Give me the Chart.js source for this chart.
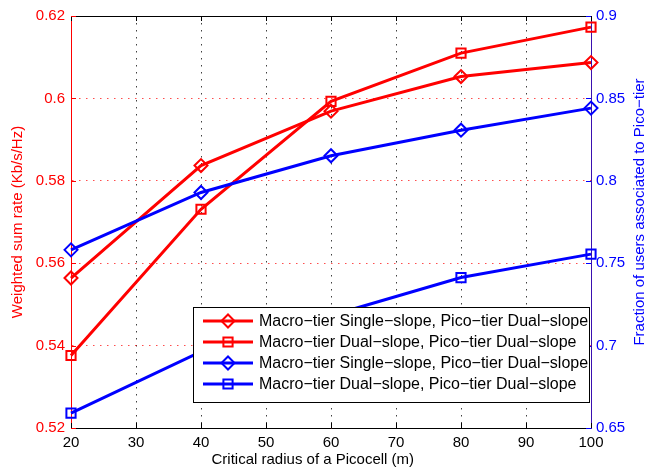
<!DOCTYPE html>
<html><head><meta charset="utf-8">
<script src="https://cdn.jsdelivr.net/npm/chart.js@4/dist/chart.umd.min.js"></script>
<style>html,body{margin:0;padding:0;background:#fff;}canvas{display:block;}</style>
</head><body>
<canvas id="c" width="647" height="471"></canvas>
<script>
// ---- data ----
const radii = [20, 40, 60, 80, 100];
const rateSingleDual = [0.5564, 0.5837, 0.5969, 0.6053, 0.6087];
const rateDualDual   = [0.5376, 0.5731, 0.5993, 0.6110, 0.6173];
const fracSingleDual = [0.7581, 0.7929, 0.8152, 0.8307, 0.8441];
const fracDualDual   = [0.6590, 0.6963, 0.7183, 0.7413, 0.7555];
const seriesLabels = [
  'Macro\u2212tier Single\u2212slope, Pico\u2212tier Dual\u2212slope',
  'Macro\u2212tier Dual\u2212slope, Pico\u2212tier Dual\u2212slope',
  'Macro\u2212tier Single\u2212slope, Pico\u2212tier Dual\u2212slope',
  'Macro\u2212tier Dual\u2212slope, Pico\u2212tier Dual\u2212slope'
];
const xTicks = [20, 30, 40, 50, 60, 70, 80, 90, 100];
const leftTicks = [0.52, 0.54, 0.56, 0.58, 0.6, 0.62];
const rightTicks = [0.65, 0.7, 0.75, 0.8, 0.85, 0.9];
const xTitle = 'Critical radius of a Picocell (m)';
const leftTitle = 'Weighted sum rate (Kb/s/Hz)';
const rightTitle = 'Fraction of users associated to Pico\u2212tier';

const FONT = "'Liberation Sans', Arial, Helvetica, sans-serif";
const RED = '#ff0000', BLUE = '#0000ff';

function pts(vals) { return radii.map((x, i) => ({x: x, y: vals[i]})); }

function drawMarker(ctx, style, x, y, r) {
  ctx.beginPath();
  if (style === 'rectRot') {
    ctx.moveTo(x - r, y); ctx.lineTo(x, y - r); ctx.lineTo(x + r, y); ctx.lineTo(x, y + r); ctx.closePath();
  } else {
    const s = r * Math.SQRT1_2; ctx.rect(x - s, y - s, 2 * s, 2 * s);
  }
  ctx.stroke();
}

const decor = {
  id: 'decor',
  beforeDatasetsDraw(chart) {
    const {ctx, chartArea: a, scales} = chart;
    ctx.save();
    ctx.lineWidth = 1;
    // top border
    ctx.strokeStyle = '#000';
    ctx.beginPath(); ctx.moveTo(a.left, a.top + 0.5); ctx.lineTo(a.right, a.top + 0.5); ctx.stroke();
    const tl = 5;
    // x ticks inward (bottom & top)
    ctx.beginPath();
    xTicks.forEach(v => {
      const px = Math.round(scales.x.getPixelForValue(v)) + 0.5;
      ctx.moveTo(px, a.bottom); ctx.lineTo(px, a.bottom - tl);
      ctx.moveTo(px, a.top); ctx.lineTo(px, a.top + tl);
    });
    ctx.stroke();
    ctx.strokeStyle = RED; ctx.beginPath();
    leftTicks.forEach(v => {
      const py = Math.round(scales.y.getPixelForValue(v)) + 0.5;
      ctx.moveTo(a.left, py); ctx.lineTo(a.left + tl, py);
    });
    ctx.stroke();
    ctx.strokeStyle = BLUE; ctx.beginPath();
    rightTicks.forEach(v => {
      const py = Math.round(scales.y1.getPixelForValue(v)) + 0.5;
      ctx.moveTo(a.right, py); ctx.lineTo(a.right - tl, py);
    });
    ctx.stroke();
    // titles
    ctx.font = '15px ' + FONT;
    ctx.textAlign = 'center'; ctx.textBaseline = 'middle';
    ctx.fillStyle = '#000';
    ctx.fillText(xTitle, a.left + (a.right - a.left) * 0.465, 460);
    ctx.save();
    ctx.translate(640, (a.top + a.bottom) / 2 - 10);
    ctx.rotate(-Math.PI / 2);
    ctx.fillStyle = BLUE;
    ctx.fillText(rightTitle, 0, 0);
    ctx.restore();
    ctx.restore();
  },
  afterDatasetsDraw(chart) {
    const {ctx, chartArea: a} = chart;
    ctx.save();
    const bx = a.left + 122, by = a.top + 291, bw = 396, bh = 95;
    ctx.fillStyle = '#fff';
    ctx.fillRect(bx, by, bw, bh);
    ctx.strokeStyle = '#000'; ctx.lineWidth = 1;
    ctx.strokeRect(bx + 0.5, by + 0.5, bw, bh);
    ctx.font = '16px ' + FONT;
    ctx.textAlign = 'left'; ctx.textBaseline = 'middle';
    chart.data.datasets.forEach((ds, i) => {
      const y = by + 14 + 21 * i;
      ctx.strokeStyle = ds.borderColor;
      ctx.lineWidth = 3;
      ctx.beginPath(); ctx.moveTo(bx + 10, y); ctx.lineTo(bx + 60, y); ctx.stroke();
      ctx.lineWidth = 2;
      drawMarker(ctx, ds.pointStyle, bx + 35, y, 6.5);
      ctx.fillStyle = '#000';
      ctx.fillText(ds.label, bx + 66, y + 1);
    });
    ctx.restore();
  }
};

function mkSet(label, vals, color, style, axis, order) {
  return {
    label: label, data: pts(vals), yAxisID: axis, order: order,
    borderColor: color, backgroundColor: color, borderWidth: 3,
    pointStyle: style, pointRadius: 6.5, pointHoverRadius: 6.5,
    pointBorderWidth: 2, pointBackgroundColor: 'rgba(0,0,0,0)',
    pointBorderColor: color, tension: 0, clip: false, fill: false
  };
}

new Chart(document.getElementById('c'), {
  type: 'line',
  data: {
    datasets: [
      mkSet(seriesLabels[0], rateSingleDual, RED, 'rectRot', 'y', 2),
      mkSet(seriesLabels[1], rateDualDual, RED, 'rect', 'y', 2),
      mkSet(seriesLabels[2], fracSingleDual, BLUE, 'rectRot', 'y1', 1),
      mkSet(seriesLabels[3], fracDualDual, BLUE, 'rect', 'y1', 1)
    ]
  },
  options: {
    responsive: false, animation: false, devicePixelRatio: 1,
    layout: {padding: {top: 16, left: 0, right: 0, bottom: 0}},
    plugins: {legend: {display: false}, tooltip: {enabled: false}},
    scales: {
      x: {
        type: 'linear', min: 20, max: 100,
        afterBuildTicks: s => { s.ticks = xTicks.map(v => ({value: v})); },
        afterFit: s => { s.height = 43; },
        ticks: {color: '#000', font: {size: 15, family: FONT}, padding: 6, maxRotation: 0,
                callback: v => String(v)},
        grid: {color: 'rgba(0,0,0,0.75)', lineWidth: 1, drawTicks: false},
        border: {color: '#000', width: 1, dash: [1.5, 5.5]}
      },
      y: {
        type: 'linear', position: 'left', min: 0.52, max: 0.62,
        afterBuildTicks: s => { s.ticks = leftTicks.map(v => ({value: v})); },
        afterFit: s => { s.width = 71; },
        ticks: {color: RED, font: {size: 15, family: FONT}, padding: 6,
                callback: v => String(+v.toFixed(2))},
        grid: {color: 'rgba(255,0,0,0.7)', lineWidth: 1, drawTicks: false},
        border: {color: RED, width: 1, dash: [1.5, 5.5]},
        title: {display: true, text: leftTitle, color: RED, font: {size: 15, family: FONT},
                padding: {top: 9, bottom: 0}}
      },
      y1: {
        type: 'linear', position: 'right', min: 0.65, max: 0.9,
        afterBuildTicks: s => { s.ticks = rightTicks.map(v => ({value: v})); },
        afterFit: s => { s.width = 56; },
        ticks: {color: BLUE, font: {size: 15, family: FONT}, padding: 5,
                callback: v => String(+v.toFixed(2))},
        grid: {display: false, drawTicks: false},
        border: {color: '#3a10b0', width: 1}
      }
    }
  },
  plugins: [decor]
});
</script>
</body></html>
